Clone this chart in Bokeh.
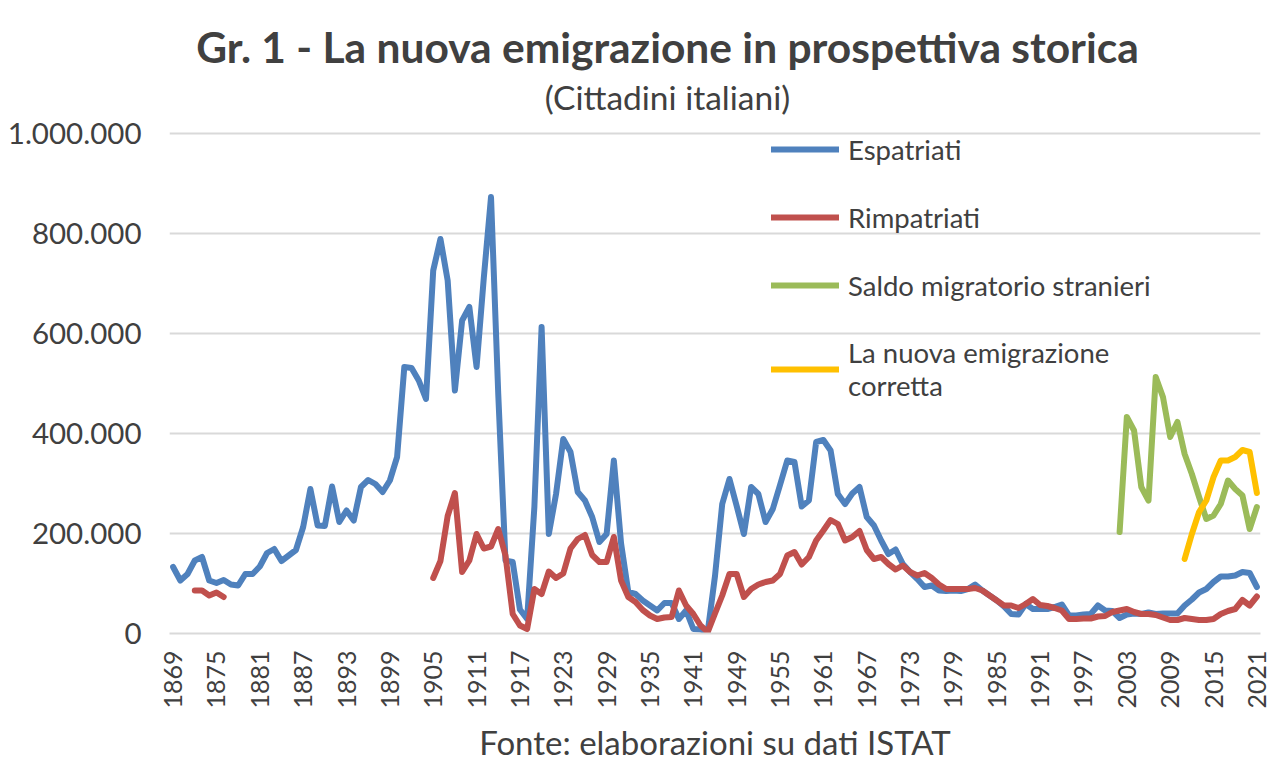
from math import nan, pi
from bokeh.plotting import figure
from bokeh.models import (FixedTicker, Legend, LegendItem, Label, Range1d)
from bokeh.embed import file_html
from bokeh.resources import INLINE

# ---------------- data ----------------
# Categories of the chart (1943 and 1944 are absent from the source series)
years = list(range(1869, 1943)) + list(range(1945, 2022))

espatriati = [
    133000, 106000, 119000, 146000, 153000, 106000, 101000, 107000, 98000, 96000,   # 1869-1878
    119000, 119000, 134000, 161000, 169000, 145000, 156000, 167000, 213000, 289000,  # 1879-1888
    216000, 215000, 294000, 223000, 246000, 226000, 293000, 307000, 299000, 283000,  # 1889-1898
    306000, 353000, 533000, 531000, 506000, 469000, 726000, 789000, 706000, 486000,  # 1899-1908
    626000, 653000, 533000, 711000, 873000, 479000, 146000, 143000, 48000, 29000,    # 1909-1918
    253000, 613000, 199000, 279000, 389000, 363000, 283000, 266000, 233000, 183000,  # 1919-1928
    199000, 346000, 180000, 83000, 79000, 66000, 56000, 46000, 61000, 61000,         # 1929-1938
    29000, 46000, 9000, 8000,                                                        # 1939-1942
    4000, 115000, 259000, 309000, 255000, 199000, 293000, 279000, 223000, 249000,    # 1945-1954
    297000, 346000, 343000, 254000, 266000, 383000, 387000, 366000, 279000, 259000,  # 1955-1964
    280000, 293000, 233000, 216000, 186000, 159000, 168000, 139000, 123000, 109000,  # 1965-1974
    93000, 96000, 86000, 85000, 86000, 85000, 89000, 98000, 86000, 76000,            # 1975-1984
    66000, 54000, 39000, 38000, 59000, 49000, 49000, 49000, 53000, 58000,            # 1985-1994
    36000, 36000, 38000, 39000, 56000, 46000, 45000, 31000, 38000, 40000,            # 1995-2004
    39000, 42000, 39000, 40000, 40000, 40000, 56000, 68000, 82000, 89000,            # 2005-2014
    103000, 114000, 114000, 116000, 123000, 121000, 93000,                           # 2015-2021
]

rimpatriati = [
    nan, nan, nan, 86000, 86000, 76000, 82000, 73000, nan, nan,                      # 1869-1878
    nan, nan, nan, nan, nan, nan, nan, nan, nan, nan,                                # 1879-1888
    nan, nan, nan, nan, nan, nan, nan, nan, nan, nan,                                # 1889-1898
    nan, nan, nan, nan, nan, nan, 111000, 145000, 235000, 281000,                    # 1899-1908
    123000, 146000, 199000, 170000, 174000, 209000, 156000, 39000, 16000, 9000,      # 1909-1918
    89000, 79000, 124000, 111000, 120000, 170000, 189000, 197000, 157000, 143000,    # 1919-1928
    143000, 193000, 106000, 73000, 63000, 47000, 36000, 29000, 32000, 33000,         # 1929-1938
    86000, 56000, 39000, 16000,                                                      # 1939-1942
    3000, 40000, 76000, 119000, 119000, 73000, 89000, 98000, 103000, 106000,         # 1945-1954
    119000, 156000, 163000, 138000, 153000, 186000, 206000, 227000, 219000, 186000,  # 1955-1964
    193000, 205000, 167000, 149000, 153000, 139000, 128000, 136000, 123000, 116000,  # 1965-1974
    121000, 111000, 98000, 89000, 89000, 89000, 89000, 91000, 86000, 76000,          # 1975-1984
    66000, 56000, 56000, 51000, 59000, 69000, 57000, 55000, 51000, 46000,            # 1985-1994
    29000, 29000, 30000, 30000, 34000, 35000, 43000, 46000, 49000, 43000,            # 1995-2004
    39000, 39000, 37000, 32000, 27000, 27000, 31000, 29000, 27000, 27000,            # 2005-2014
    29000, 39000, 45000, 49000, 67000, 56000, 74000,                                 # 2015-2021
]

saldo_stranieri_years = list(range(2002, 2022))
saldo_stranieri_vals = [203000, 433000, 406000, 293000, 266000, 513000, 473000, 393000,
                        423000, 359000, 319000, 273000, 229000, 236000, 259000, 306000,
                        289000, 276000, 209000, 253000]

nuova_emig_years = list(range(2011, 2022))
nuova_emig_vals = [149000, 199000, 243000, 266000, 313000, 346000, 346000, 353000,
                   367000, 363000, 281000]

y_ticks = [0, 200000, 400000, 600000, 800000, 1000000]
y_tick_labels = ["0", "200.000", "400.000", "600.000", "800.000", "1.000.000"]
x_label_step = 6

title_text = "Gr. 1 - La nuova emigrazione in prospettiva storica"
subtitle_text = "(Cittadini italiani)"
source_text = "Fonte: elaborazioni su dati ISTAT"
series_names = ["Espatriati", "Rimpatriati", "Saldo migratorio stranieri",
                "La nuova emigrazione\ncorretta"]
series_colors = ["#4F81BD", "#C0504D", "#9BBB59", "#FFC000"]

# ---------------- build ----------------
idx = list(range(len(years)))
pos_of = {y: i for i, y in enumerate(years)}

FONT = "Lato"
TXT = "#404040"

W, H = 1272, 766
B_LEFT, B_RIGHT, B_BOTTOM = 169, 12, 133
FRAME_H = H - B_BOTTOM                      # frame reaches the top of the canvas
Y_MAX = 1000000
PLOT_TOP = 133                              # pixel row of the 1.000.000 gridline
y_end = Y_MAX * FRAME_H / (FRAME_H - PLOT_TOP)   # room above the grid for the titles

p = figure(width=W, height=H, output_backend="svg", toolbar_location=None,
           x_range=Range1d(-0.5, len(years) - 0.5), y_range=Range1d(0, y_end),
           min_border_left=B_LEFT, min_border_right=B_RIGHT, min_border_top=0,
           min_border_bottom=B_BOTTOM)
p.title = None
p.outline_line_color = None
p.background_fill_color = "white"
p.border_fill_color = "white"

lw = 6
r1 = p.line(idx, espatriati, line_color=series_colors[0], line_width=lw,
            line_join="round", line_cap="round")
r2 = p.line(idx, rimpatriati, line_color=series_colors[1], line_width=lw,
            line_join="round", line_cap="round")
r3 = p.line([pos_of[y] for y in saldo_stranieri_years], saldo_stranieri_vals,
            line_color=series_colors[2], line_width=lw, line_join="round", line_cap="round")
r4 = p.line([pos_of[y] for y in nuova_emig_years], nuova_emig_vals,
            line_color=series_colors[3], line_width=lw, line_join="round", line_cap="round")

# axes
p.yaxis.ticker = FixedTicker(ticks=y_ticks)
p.yaxis.major_label_overrides = {t: l for t, l in zip(y_ticks, y_tick_labels)}
p.yaxis.axis_line_color = None
p.yaxis.major_tick_line_color = None
p.yaxis.minor_tick_line_color = None
p.yaxis.major_label_text_font = FONT
p.yaxis.major_label_text_font_size = "29.5px"
p.yaxis.major_label_text_color = TXT
p.yaxis.major_label_standoff = 22

xt = list(range(0, len(years), x_label_step))
p.xaxis.ticker = FixedTicker(ticks=xt)
p.xaxis.major_label_overrides = {i: str(years[i]) for i in xt}
p.xaxis.major_label_orientation = pi / 2
p.xaxis.axis_line_color = "#D9D9D9"
p.xaxis.axis_line_width = 2
p.xaxis.major_tick_line_color = None
p.xaxis.minor_tick_line_color = None
p.xaxis.major_label_text_font = FONT
p.xaxis.major_label_text_font_size = "25px"
p.xaxis.major_label_text_color = TXT
p.xaxis.major_label_standoff = 11
p.xaxis.axis_label = source_text
p.xaxis.axis_label_text_font = FONT
p.xaxis.axis_label_text_font_size = "33px"
p.xaxis.axis_label_text_font_style = "normal"
p.xaxis.axis_label_text_color = TXT
p.xaxis.axis_label_standoff = 10

p.xgrid.grid_line_color = None
p.ygrid.grid_line_color = "#D9D9D9"
p.ygrid.grid_line_width = 2

# titles (screen units relative to the plot frame's bottom-left corner)
p.add_layout(Label(x=498, y=FRAME_H - 46, x_units="screen", y_units="screen",
                   text=title_text, text_align="center", text_baseline="alphabetic",
                   text_font=FONT, text_font_size="42.5px", text_font_style="bold",
                   text_color=TXT))
p.add_layout(Label(x=498, y=FRAME_H - 96, x_units="screen", y_units="screen",
                   text=subtitle_text, text_align="center", text_baseline="alphabetic",
                   text_font=FONT, text_font_size="33.5px", text_color=TXT))

# legend
legend = Legend(items=[LegendItem(label=series_names[i], renderers=[r])
                       for i, r in enumerate([r1, r2, r3, r4])],
                location=(602, 231), orientation="vertical",
                glyph_width=68, glyph_height=34, label_height=34, label_standoff=9,
                spacing=34, padding=0, margin=0,
                label_text_font=FONT, label_text_font_size="27.5px",
                label_text_color=TXT, border_line_color=None,
                background_fill_alpha=0)
p.add_layout(legend)

open("out.html", "w").write(file_html(p, INLINE))
